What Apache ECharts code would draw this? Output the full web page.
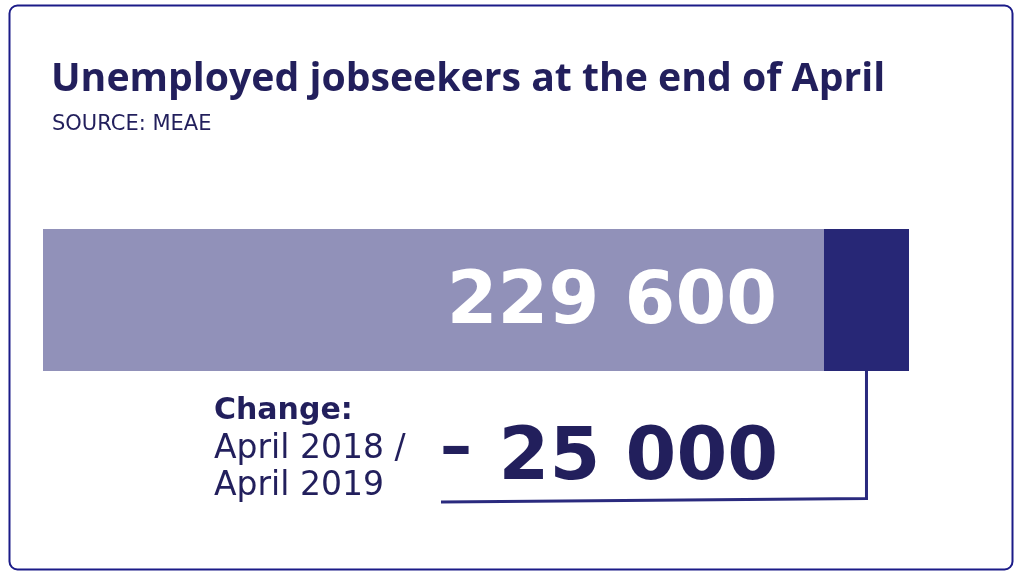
<!DOCTYPE html>
<html>
<head>
<meta charset="utf-8">
<script src="https://cdn.jsdelivr.net/npm/echarts@6/dist/echarts.min.js"></script>
<style>html,body{margin:0;padding:0;background:#fff;}#c{width:1024px;height:576px;}</style>
</head>
<body>
<div id="c"></div>
<script>
const categories = ['April 2019'];
const currentValues = [229600];
const changeValues = [25000];
const titleText = 'Unemployed jobseekers at the end of April';
const sourceText = 'SOURCE: MEAE';
const changeTitle = 'Change:';
const changeLine1 = 'April 2018 /';
const changeLine2 = 'April 2019';

const TITLE_FONT = 'Open Sans';
const FONT = 'DejaVu Sans';
const DARK_TEXT = '#221f5c';
const LIGHT = '#9191b9';
const DARK = '#272776';

function fmt(n){ return String(n).replace(/\B(?=(\d{3})+(?!\d))/g, ' '); }

const chart = echarts.init(document.getElementById('c'), null, {renderer:'canvas'});
const total = currentValues[0] + changeValues[0];
chart.setOption({
  animation: false,
  title: [
    {text: titleText, left: 51, top: 60, padding: 0, textStyle:{fontFamily:TITLE_FONT, fontWeight:'bold', fontSize:39.2, color:DARK_TEXT}},
    {text: sourceText, left: 52, top: 114, padding: 0, textStyle:{fontFamily:FONT, fontWeight:'normal', fontSize:21, color:DARK_TEXT}}
  ],
  grid: {left: 43, right: 115, top: 229, bottom: 205, containLabel:false},
  xAxis: {type:'value', min:0, max: total, show:false},
  yAxis: {type:'category', data: categories, show:false},
  series: [
    {type:'bar', stack:'a', data: currentValues, barWidth:'100%', itemStyle:{color:LIGHT},
     label:{show:true, position:'insideRight', distance:47, offset:[0,4], formatter: p => fmt(p.value),
       fontFamily:FONT, fontWeight:'bold', fontSize:73, color:'#fff'}},
    {type:'bar', stack:'a', data: changeValues, barWidth:'100%', itemStyle:{color:DARK}}
  ]
});

const xMid = chart.convertToPixel({xAxisIndex:0}, currentValues[0] + changeValues[0]/2);
const barBottom = chart.convertToPixel({yAxisIndex:0}, categories[0]) + 71;
chart.setOption({
  graphic: [
    {type:'rect', shape:{x:9.5, y:5.5, width:1003, height:564, r:8}, style:{fill:null, stroke:'#1b1b88', lineWidth:2}},
    {type:'polyline', shape:{points:[[xMid, barBottom],[xMid, 498.5],[441, 502]]}, style:{stroke:'#2a2a7e', lineWidth:3, fill:null}},
    {type:'text', x: 214, y: 411, style:{text: changeTitle, verticalAlign:'middle', fontFamily:FONT, fontWeight:'bold', fontSize:30, fill:DARK_TEXT}},
    {type:'text', x: 214, y: 449, style:{text: changeLine1, verticalAlign:'middle', fontFamily:FONT, fontWeight:'normal', fontSize:33, fill:DARK_TEXT}},
    {type:'text', x: 214, y: 486, style:{text: changeLine2, verticalAlign:'middle', fontFamily:FONT, fontWeight:'normal', fontSize:33, fill:DARK_TEXT}},
    {type:'text', x: 440, y: 451, style:{text: '–', align:'left', verticalAlign:'middle', fontFamily:FONT, fontWeight:'bold', fontSize:64, fill:DARK_TEXT}},
    {type:'text', x: 778, y: 460, style:{text: fmt(changeValues[0]), align:'right', verticalAlign:'middle', fontFamily:FONT, fontWeight:'bold', fontSize:73, fill:DARK_TEXT}}
  ]
});
</script>
</body>
</html>
